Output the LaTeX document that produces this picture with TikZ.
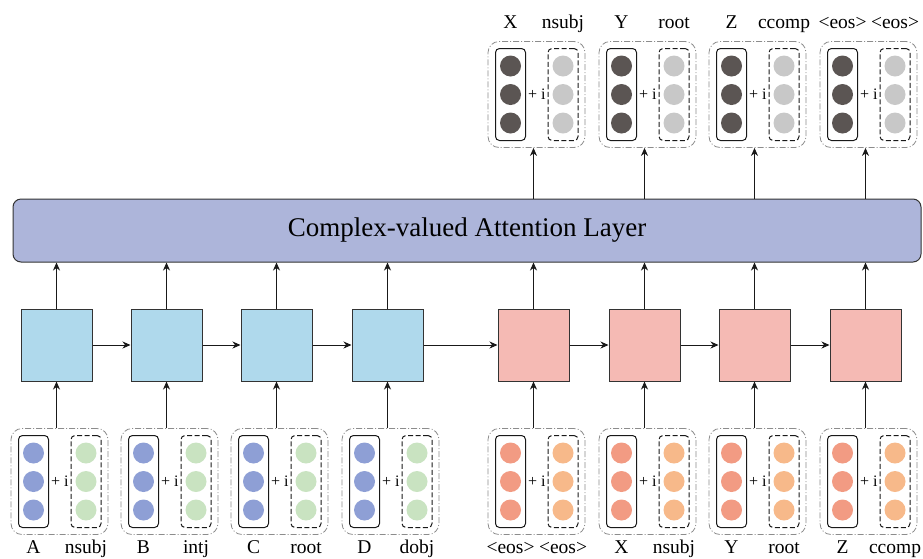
\documentclass[tikz,border=0pt]{standalone}
\usepackage{fontspec}
\setmainfont{Liberation Serif}
\usetikzlibrary{arrows.meta,calc}
\definecolor{layerfill}{HTML}{ADB5DA}
\definecolor{encfill}{HTML}{AFD9EC}
\definecolor{decfill}{HTML}{F5BAB4}
\definecolor{dotblue}{HTML}{8E9FD5}
\definecolor{dotgreen}{HTML}{C9E3C1}
\definecolor{dotred}{HTML}{F29B83}
\definecolor{dotorange}{HTML}{F7B98A}
\definecolor{dotdark}{HTML}{5B5553}
\definecolor{dotlight}{HTML}{C8C8C8}
\definecolor{edge}{HTML}{333333}
\tikzset{
  cellbox/.style={draw=edge, line width=1pt, minimum width=71pt, minimum height=72pt, inner sep=0pt},
  encbox/.style={cellbox, fill=encfill},
  decbox/.style={cellbox, fill=decfill},
  grpbox/.style={draw=black!45, line width=0.8pt, dash pattern=on 6pt off 2pt on 1pt off 2pt, rounded corners=11pt, minimum width=97pt, minimum height=106pt, inner sep=0pt},
  realbox/.style={draw=black!90, line width=1pt, rounded corners=4pt, minimum width=30pt, minimum height=92pt, inner sep=0pt},
  imagbox/.style={realbox, dash pattern=on 5pt off 2.5pt},
  dotnode/.style={circle, minimum size=21pt, inner sep=0pt},
  plusi/.style={font=\fontsize{16}{18}\selectfont, inner sep=0pt},
  wordlbl/.style={font=\fontsize{19.5}{22}\selectfont, inner sep=0pt, anchor=base},
  arr/.style={draw=black!90, line width=1pt, -{Stealth[length=8pt, width=7pt, inset=2.5pt]}},
}
% #1 name, #2 box x, #3 centre y, #4 real colour, #5 imag colour
\newcommand\mkgroup[5]{%
  \node[grpbox] (#1) at ({#2+3},{#3}) {};
  \node[realbox] (#1r) at ({#2-23},{#3}) {};
  \node[realbox, imagbox] (#1i) at ({#2+29.5},{#3}) {};
  \foreach \k/\dy in {1/-28.5,2/0,3/28.5}{
    \node[dotnode, fill=#4] (#1r\k) at ({#2-23},{#3+\dy}) {};
    \node[dotnode, fill=#5] (#1i\k) at ({#2+29.5},{#3+\dy}) {};
  }
  \node[plusi] (#1p) at ($(#1r.east)!0.5!(#1i.west)$) {+ i};
}
\begin{document}
\begin{tikzpicture}[x=1pt,y=-1pt]
\useasboundingbox (0,0) rectangle (923,558);

% attention layer
\node[draw=edge, line width=1pt, fill=layerfill, rounded corners=8pt, minimum width=908pt, minimum height=63pt, inner sep=0pt,
      font=\fontsize{27}{31}\selectfont] (layer) at (467,230.5) {Complex-valued Attention Layer};

% encoder / decoder cells
\foreach \n/\x in {1/56.5,2/166.5,3/276.5,4/387.5}{
  \node[encbox] (e\n) at (\x,345) {};
}
\foreach \n/\x in {1/533.5,2/644.5,3/754.5,4/865.5}{
  \node[decbox] (d\n) at (\x,345) {};
}

% input groups
\mkgroup{ge1}{56.5}{481.5}{dotblue}{dotgreen}
\mkgroup{ge2}{166.5}{481.5}{dotblue}{dotgreen}
\mkgroup{ge3}{276.5}{481.5}{dotblue}{dotgreen}
\mkgroup{ge4}{387.5}{481.5}{dotblue}{dotgreen}
\mkgroup{gd1}{533.5}{481.5}{dotred}{dotorange}
\mkgroup{gd2}{644.5}{481.5}{dotred}{dotorange}
\mkgroup{gd3}{754.5}{481.5}{dotred}{dotorange}
\mkgroup{gd4}{865.5}{481.5}{dotred}{dotorange}
% output groups
\mkgroup{go1}{533.5}{94.5}{dotdark}{dotlight}
\mkgroup{go2}{644.5}{94.5}{dotdark}{dotlight}
\mkgroup{go3}{754.5}{94.5}{dotdark}{dotlight}
\mkgroup{go4}{865.5}{94.5}{dotdark}{dotlight}

% bottom labels
\foreach \g/\a/\b in {ge1/A/nsubj, ge2/B/intj, ge3/C/root, ge4/D/dobj,
                      gd1/<eos>/<eos>, gd2/X/nsubj, gd3/Y/root, gd4/Z/ccomp}{
  \node[wordlbl] (\g la) at (\g r.center |- 0,553) {\a};
  \node[wordlbl] (\g lb) at (\g i.center |- 0,553) {\b};
}
% top labels
\foreach \g/\a/\b in {go1/X/nsubj, go2/Y/root, go3/Z/ccomp, go4/<eos>/<eos>}{
  \node[wordlbl] (\g la) at (\g r.center |- 0,28) {\a};
  \node[wordlbl] (\g lb) at (\g i.center |- 0,28) {\b};
}

% arrows: inputs to cells, cells to layer
\foreach \c/\g in {e1/ge1,e2/ge2,e3/ge3,e4/ge4,d1/gd1,d2/gd2,d3/gd3,d4/gd4}{
  \draw[arr] (\c |- \g.north) -- (\c.south);
  \draw[arr] (\c.north) -- (\c |- layer.south);
}
% layer to outputs
\foreach \c/\g in {d1/go1,d2/go2,d3/go3,d4/go4}{
  \draw[arr] (\c |- layer.north) -- (\c |- \g.south);
}
% recurrent arrows
\foreach \a/\b in {e1/e2,e2/e3,e3/e4,e4/d1,d1/d2,d2/d3,d3/d4}{
  \draw[arr] (\a.east) -- (\b.west);
}
\end{tikzpicture}
\end{document}
